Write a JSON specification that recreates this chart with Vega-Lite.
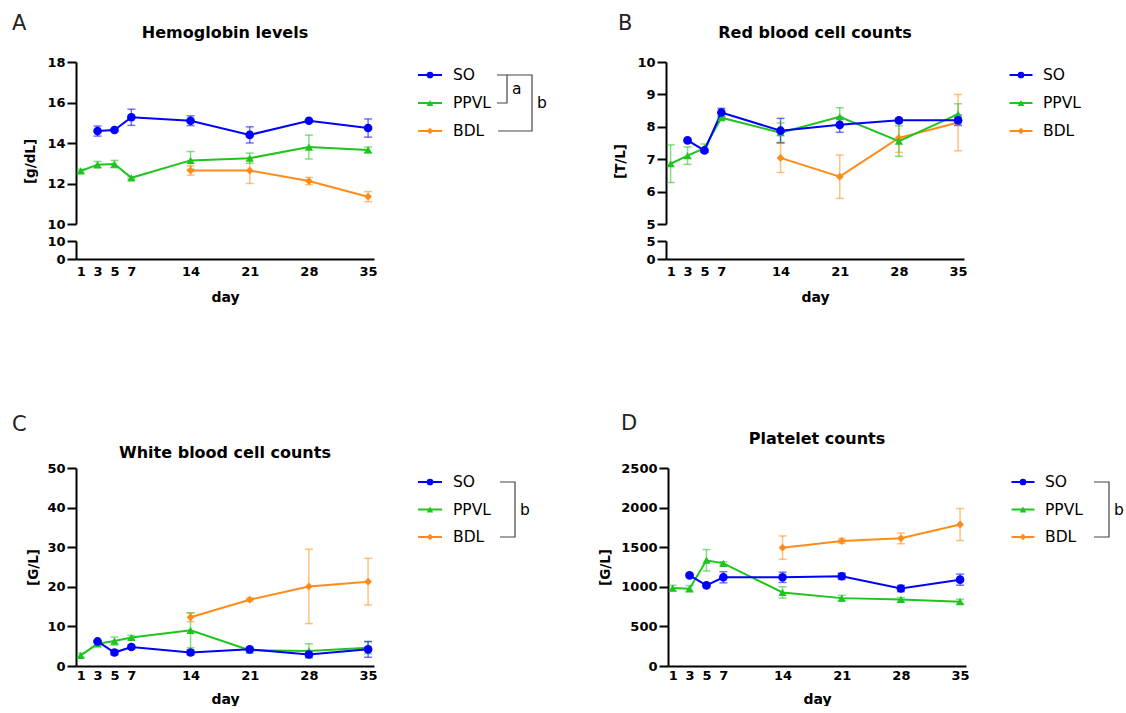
{
"$schema":"https://vega.github.io/schema/vega-lite/v6.json",
"background":"white",
"padding":{"left":12,"top":13,"right":0,"bottom":0},
"datasets":{
"d":[
{"p":"A","g":"BDL","day":14,"m":12.64,"lo":12.41,"hi":12.87},{"p":"A","g":"BDL","day":21,"m":12.64,"lo":12.0,"hi":13.28},{"p":"A","g":"BDL","day":28,"m":12.12,"lo":11.94,"hi":12.3},{"p":"A","g":"BDL","day":35,"m":11.35,"lo":11.1,"hi":11.6},
{"p":"A","g":"PPVL","day":1,"m":12.62,"lo":12.54,"hi":12.7},{"p":"A","g":"PPVL","day":3,"m":12.93,"lo":12.77,"hi":13.09},{"p":"A","g":"PPVL","day":5,"m":12.96,"lo":12.78,"hi":13.14},{"p":"A","g":"PPVL","day":7,"m":12.28,"lo":12.22,"hi":12.34},{"p":"A","g":"PPVL","day":14,"m":13.14,"lo":12.7,"hi":13.58},{"p":"A","g":"PPVL","day":21,"m":13.25,"lo":13.0,"hi":13.5},{"p":"A","g":"PPVL","day":28,"m":13.8,"lo":13.21,"hi":14.39},{"p":"A","g":"PPVL","day":35,"m":13.66,"lo":13.52,"hi":13.8},
{"p":"A","g":"SO","day":3,"m":14.59,"lo":14.34,"hi":14.84},{"p":"A","g":"SO","day":5,"m":14.64,"lo":14.58,"hi":14.7},{"p":"A","g":"SO","day":7,"m":15.27,"lo":14.87,"hi":15.67},{"p":"A","g":"SO","day":14,"m":15.1,"lo":14.86,"hi":15.34},{"p":"A","g":"SO","day":21,"m":14.4,"lo":14.0,"hi":14.8},{"p":"A","g":"SO","day":28,"m":15.1,"lo":15.04,"hi":15.16},{"p":"A","g":"SO","day":35,"m":14.74,"lo":14.29,"hi":15.19},
{"p":"B","g":"BDL","day":14,"m":7.04,"lo":6.59,"hi":7.49},{"p":"B","g":"BDL","day":21,"m":6.46,"lo":5.79,"hi":7.13},{"p":"B","g":"BDL","day":28,"m":7.66,"lo":7.21,"hi":8.11},{"p":"B","g":"BDL","day":35,"m":8.13,"lo":7.26,"hi":9.0},
{"p":"B","g":"PPVL","day":1,"m":6.86,"lo":6.28,"hi":7.44},{"p":"B","g":"PPVL","day":3,"m":7.11,"lo":6.84,"hi":7.38},{"p":"B","g":"PPVL","day":5,"m":7.34,"lo":7.21,"hi":7.47},{"p":"B","g":"PPVL","day":7,"m":8.28,"lo":8.22,"hi":8.34},{"p":"B","g":"PPVL","day":14,"m":7.82,"lo":7.52,"hi":8.12},{"p":"B","g":"PPVL","day":21,"m":8.31,"lo":8.03,"hi":8.59},{"p":"B","g":"PPVL","day":28,"m":7.56,"lo":7.09,"hi":8.03},{"p":"B","g":"PPVL","day":35,"m":8.39,"lo":8.07,"hi":8.71},
{"p":"B","g":"SO","day":3,"m":7.58,"lo":7.55,"hi":7.61},{"p":"B","g":"SO","day":5,"m":7.27,"lo":7.22,"hi":7.32},{"p":"B","g":"SO","day":7,"m":8.44,"lo":8.31,"hi":8.57},{"p":"B","g":"SO","day":14,"m":7.88,"lo":7.5,"hi":8.26},{"p":"B","g":"SO","day":21,"m":8.06,"lo":7.83,"hi":8.29},{"p":"B","g":"SO","day":28,"m":8.2,"lo":8.15,"hi":8.25},{"p":"B","g":"SO","day":35,"m":8.2,"lo":8.04,"hi":8.36},
{"p":"C","g":"BDL","day":14,"m":12.3,"lo":11.2,"hi":13.4},{"p":"C","g":"BDL","day":21,"m":16.75,"lo":16.35,"hi":17.15},{"p":"C","g":"BDL","day":28,"m":20.1,"lo":10.7,"hi":29.5},{"p":"C","g":"BDL","day":35,"m":21.3,"lo":15.4,"hi":27.2},
{"p":"C","g":"PPVL","day":1,"m":2.7,"lo":2.2,"hi":3.2},{"p":"C","g":"PPVL","day":3,"m":5.6,"lo":5.2,"hi":6.0},{"p":"C","g":"PPVL","day":5,"m":6.3,"lo":5.3,"hi":7.3},{"p":"C","g":"PPVL","day":7,"m":7.2,"lo":6.7,"hi":7.7},{"p":"C","g":"PPVL","day":14,"m":9.0,"lo":4.6,"hi":13.4},{"p":"C","g":"PPVL","day":21,"m":4.0,"lo":3.7,"hi":4.3},{"p":"C","g":"PPVL","day":28,"m":3.8,"lo":2.0,"hi":5.6},{"p":"C","g":"PPVL","day":35,"m":4.6,"lo":3.1,"hi":6.1},
{"p":"C","g":"SO","day":3,"m":6.2,"lo":5.9,"hi":6.5},{"p":"C","g":"SO","day":5,"m":3.4,"lo":2.8,"hi":4.0},{"p":"C","g":"SO","day":7,"m":4.8,"lo":4.3,"hi":5.3},{"p":"C","g":"SO","day":14,"m":3.4,"lo":2.8,"hi":4.0},{"p":"C","g":"SO","day":21,"m":4.2,"lo":3.9,"hi":4.5},{"p":"C","g":"SO","day":28,"m":2.9,"lo":2.2,"hi":3.6},{"p":"C","g":"SO","day":35,"m":4.2,"lo":2.2,"hi":6.2},
{"p":"D","g":"BDL","day":14,"m":1494,"lo":1346,"hi":1642},{"p":"D","g":"BDL","day":21,"m":1579,"lo":1549,"hi":1609},{"p":"D","g":"BDL","day":28,"m":1612,"lo":1544,"hi":1680},{"p":"D","g":"BDL","day":35,"m":1786,"lo":1584,"hi":1988},
{"p":"D","g":"PPVL","day":1,"m":984,"lo":949,"hi":1019},{"p":"D","g":"PPVL","day":3,"m":976,"lo":936,"hi":1016},{"p":"D","g":"PPVL","day":5,"m":1335,"lo":1200,"hi":1470},{"p":"D","g":"PPVL","day":7,"m":1296,"lo":1276,"hi":1316},{"p":"D","g":"PPVL","day":14,"m":929,"lo":857,"hi":1001},{"p":"D","g":"PPVL","day":21,"m":857,"lo":822,"hi":892},{"p":"D","g":"PPVL","day":28,"m":840,"lo":815,"hi":865},{"p":"D","g":"PPVL","day":35,"m":812,"lo":782,"hi":842},
{"p":"D","g":"SO","day":3,"m":1145,"lo":1125,"hi":1165},{"p":"D","g":"SO","day":5,"m":1018,"lo":998,"hi":1038},{"p":"D","g":"SO","day":7,"m":1120,"lo":1050,"hi":1190},{"p":"D","g":"SO","day":14,"m":1120,"lo":1055,"hi":1185},{"p":"D","g":"SO","day":21,"m":1133,"lo":1093,"hi":1173},{"p":"D","g":"SO","day":28,"m":978,"lo":938,"hi":1018},{"p":"D","g":"SO","day":35,"m":1090,"lo":1020,"hi":1160}
],
"s":[{"g":"SO"},{"g":"PPVL"},{"g":"BDL"}],
"br":[
{"p":"A","label":"a","from":"SO","to":"PPVL","mid":"SO|PPVL","level":1},
{"p":"A","label":"b","from":"SO","to":"BDL","mid":"PPVL","level":2},
{"p":"C","label":"b","from":"SO","to":"BDL","mid":"PPVL","level":1},
{"p":"D","label":"b","from":"SO","to":"BDL","mid":"PPVL","level":1}
]
},
"vconcat":[
{"hconcat":[
 {"title":{"text":"A","anchor":"start","frame":"group","fontSize":21,"fontWeight":"normal","color":"#222","dx":-64,"dy":9,"offset":0},
  "bounds":"flush","spacing":17,
  "vconcat":[
   {"width":298,"height":162,
    "title":{"text":"Hemoglobin levels","offset":15,"frame":"group"},
    "data":{"name":"d"},"transform":[{"filter":"datum.p==='A'"}],
    "encoding":{
     "x":{"field":"day","type":"quantitative","scale":{"domain":[0.45,35.7],"nice":false,"zero":false},"axis":null},
     "color":{"field":"g","type":"nominal","scale":{"domain":["SO","PPVL","BDL"],"range":["#0000ff","#1fc41f","#ff8c1a"]},"legend":null}},
    "layer":[
     {"mark":{"type":"rule","strokeWidth":1.5,"opacity":0.55},"encoding":{"y":{"field":"lo","type":"quantitative","scale":{"domain":[10,18],"nice":false,"zero":false},"axis":{"values":[10,12,14,16,18],"title":"[g/dL]","titleY":99,"titlePadding":9}},"y2":{"field":"hi"}}},
     {"mark":{"type":"tick","orient":"horizontal","size":8,"thickness":1.5,"opacity":0.55},"encoding":{"y":{"field":"lo","type":"quantitative","scale":{"domain":[10,18],"nice":false,"zero":false},"axis":{"values":[10,12,14,16,18],"title":"[g/dL]","titleY":99,"titlePadding":9}}}},
     {"mark":{"type":"tick","orient":"horizontal","size":8,"thickness":1.5,"opacity":0.55},"encoding":{"y":{"field":"hi","type":"quantitative","scale":{"domain":[10,18],"nice":false,"zero":false},"axis":{"values":[10,12,14,16,18],"title":"[g/dL]","titleY":99,"titlePadding":9}}}},
     {"mark":{"type":"line","strokeWidth":2},"encoding":{"y":{"field":"m","type":"quantitative","scale":{"domain":[10,18],"nice":false,"zero":false},"axis":{"values":[10,12,14,16,18],"title":"[g/dL]","titleY":99,"titlePadding":9}}}},
     {"mark":{"type":"point","filled":true,"opacity":1},"encoding":{"y":{"field":"m","type":"quantitative","scale":{"domain":[10,18],"nice":false,"zero":false},"axis":{"values":[10,12,14,16,18],"title":"[g/dL]","titleY":99,"titlePadding":9}},"shape":{"field":"g","type":"nominal","scale":{"domain":["SO","PPVL","BDL"],"range":["circle","triangle-up","diamond"]},"legend":null},"size":{"field":"g","type":"ordinal","scale":{"domain":["SO","PPVL","BDL"],"range":[75,62,45]},"legend":null}}}
    ]},
   {"width":298,"height":18,
    "data":{"name":"d"},"transform":[{"filter":"datum.p==='A'"}],
    "mark":{"type":"line","clip":true,"opacity":0},
    "encoding":{
     "x":{"field":"day","type":"quantitative","scale":{"domain":[0.45,35.7],"nice":false,"zero":false},"axis":{"values":[1,3,5,7,14,21,28,35],"title":"day","labelPadding":6,"titlePadding":12}},
     "y":{"field":"m","type":"quantitative","scale":{"domain":[0,10],"nice":false,"zero":false},"axis":{"values":[0,10],"title":null}},
     "detail":{"field":"g","type":"nominal"}}}
  ]},
 {"width":235,"height":80,
  "layer":[
   {"data":{"name":"s"},"mark":{"type":"point","shape":"M-1,0L1,0","size":576,"filled":false,"strokeWidth":2,"opacity":1},
    "encoding":{"x":{"datum":-2.08,"type":"quantitative","scale":{"domain":[-4.16,5.24],"nice":false,"zero":false},"axis":null},
     "y":{"field":"g","type":"nominal","scale":{"type":"point","domain":["SO","SO|PPVL","PPVL","PPVL|BDL","BDL"],"range":[13,69],"padding":0},"axis":null},
     "color":{"field":"g","type":"nominal","legend":null}}},
   {"data":{"name":"s"},"mark":{"type":"point","filled":true,"opacity":1,"size":45},
    "encoding":{"x":{"datum":-2.08,"type":"quantitative"},
     "y":{"field":"g","type":"nominal"},
     "color":{"field":"g","type":"nominal","legend":null},"shape":{"field":"g","type":"nominal","legend":null}}},
   {"data":{"name":"s"},"mark":{"type":"text","align":"left","baseline":"middle","fontSize":15.5,"color":"#000"},
    "encoding":{"x":{"datum":-1.16,"type":"quantitative"},
     "y":{"field":"g","type":"nominal"},
     "text":{"field":"g","type":"nominal"}}},
   {"data":{"name":"br"},"transform":[{"filter":"datum.p==='A' && datum.label==='a'"}],"mark":{"type":"point","shape":"M-0.714,-1H0V1H-0.714","size":784,"filled":false,"stroke":"#444","strokeWidth":1.2,"opacity":1},
    "encoding":{"x":{"field":"level","type":"quantitative"},"y":{"field":"mid","type":"nominal"}}},
   {"data":{"name":"br"},"transform":[{"filter":"datum.p==='A' && datum.label==='b'"}],"mark":{"type":"point","shape":"M-0.893,-1H0V1H-1.214","size":3136,"filled":false,"stroke":"#444","strokeWidth":1.2,"opacity":1},
    "encoding":{"x":{"field":"level","type":"quantitative"},"y":{"field":"mid","type":"nominal"}}},
   {"data":{"name":"br"},"transform":[{"filter":"datum.p==='A'"}],"mark":{"type":"text","align":"left","baseline":"middle","fontSize":15.5,"color":"#000","dx":5},
    "encoding":{"x":{"field":"level","type":"quantitative"},"y":{"field":"mid","type":"nominal"},"text":{"field":"label","type":"nominal"}}}
  ]},
 {"title":{"text":"B","anchor":"start","frame":"group","fontSize":21,"fontWeight":"normal","color":"#222","dx":-48,"dy":9,"offset":0},
  "bounds":"flush","spacing":17,
  "vconcat":[
   {"width":298,"height":162,
    "title":{"text":"Red blood cell counts","offset":15,"frame":"group"},
    "data":{"name":"d"},"transform":[{"filter":"datum.p==='B'"}],
    "encoding":{
     "x":{"field":"day","type":"quantitative","scale":{"domain":[0.45,35.7],"nice":false,"zero":false},"axis":null},
     "color":{"field":"g","type":"nominal","legend":null}},
    "layer":[
     {"mark":{"type":"rule","strokeWidth":1.5,"opacity":0.55},"encoding":{"y":{"field":"lo","type":"quantitative","scale":{"domain":[5,10],"nice":false,"zero":false},"axis":{"values":[5,6,7,8,9,10],"title":"[T/L]","titleY":99,"titlePadding":9}},"y2":{"field":"hi"}}},
     {"mark":{"type":"tick","orient":"horizontal","size":8,"thickness":1.5,"opacity":0.55},"encoding":{"y":{"field":"lo","type":"quantitative","scale":{"domain":[5,10],"nice":false,"zero":false},"axis":{"values":[5,6,7,8,9,10],"title":"[T/L]","titleY":99,"titlePadding":9}}}},
     {"mark":{"type":"tick","orient":"horizontal","size":8,"thickness":1.5,"opacity":0.55},"encoding":{"y":{"field":"hi","type":"quantitative","scale":{"domain":[5,10],"nice":false,"zero":false},"axis":{"values":[5,6,7,8,9,10],"title":"[T/L]","titleY":99,"titlePadding":9}}}},
     {"mark":{"type":"line","strokeWidth":2},"encoding":{"y":{"field":"m","type":"quantitative","scale":{"domain":[5,10],"nice":false,"zero":false},"axis":{"values":[5,6,7,8,9,10],"title":"[T/L]","titleY":99,"titlePadding":9}}}},
     {"mark":{"type":"point","filled":true,"opacity":1},"encoding":{"y":{"field":"m","type":"quantitative","scale":{"domain":[5,10],"nice":false,"zero":false},"axis":{"values":[5,6,7,8,9,10],"title":"[T/L]","titleY":99,"titlePadding":9}},"shape":{"field":"g","type":"nominal","legend":null},"size":{"field":"g","type":"ordinal","legend":null}}}
    ]},
   {"width":298,"height":18,
    "data":{"name":"d"},"transform":[{"filter":"datum.p==='B'"}],
    "mark":{"type":"line","clip":true,"opacity":0},
    "encoding":{
     "x":{"field":"day","type":"quantitative","scale":{"domain":[0.45,35.7],"nice":false,"zero":false},"axis":{"values":[1,3,5,7,14,21,28,35],"title":"day","labelPadding":6,"titlePadding":12}},
     "y":{"field":"m","type":"quantitative","scale":{"domain":[0,5],"nice":false,"zero":false},"axis":{"values":[0,5],"title":null}},
     "detail":{"field":"g","type":"nominal"}}}
  ]},
 {"width":155,"height":80,
  "layer":[
   {"data":{"name":"s"},"mark":{"type":"point","shape":"M-1,0L1,0","size":529,"filled":false,"strokeWidth":2,"opacity":1},
    "encoding":{"x":{"datum":-2.44,"type":"quantitative","scale":{"domain":[-4.56,1.64],"nice":false,"zero":false},"axis":null},
     "y":{"field":"g","type":"nominal","scale":{"type":"point","domain":["SO","SO|PPVL","PPVL","PPVL|BDL","BDL"],"range":[13,69],"padding":0},"axis":null},
     "color":{"field":"g","type":"nominal","legend":null}}},
   {"data":{"name":"s"},"mark":{"type":"point","filled":true,"opacity":1,"size":45},
    "encoding":{"x":{"datum":-2.44,"type":"quantitative"},
     "y":{"field":"g","type":"nominal"},
     "color":{"field":"g","type":"nominal","legend":null},"shape":{"field":"g","type":"nominal","legend":null}}},
   {"data":{"name":"s"},"mark":{"type":"text","align":"left","baseline":"middle","fontSize":15.5,"color":"#000"},
    "encoding":{"x":{"datum":-1.56,"type":"quantitative"},
     "y":{"field":"g","type":"nominal"},
     "text":{"field":"g","type":"nominal"}}}
  ]}
],"spacing":0},
{"hconcat":[
 {"title":{"text":"C","anchor":"start","frame":"group","fontSize":21,"fontWeight":"normal","color":"#222","dx":-64,"dy":-10,"offset":0},
  "bounds":"flush",
  "vconcat":[
   {"width":298,"height":198,
    "title":{"text":"White blood cell counts","offset":1,"frame":"group"},
    "data":{"name":"d"},"transform":[{"filter":"datum.p==='C'"}],
    "encoding":{
     "x":{"field":"day","type":"quantitative","scale":{"domain":[0.45,35.7],"nice":false,"zero":false},"axis":{"values":[1,3,5,7,14,21,28,35],"title":"day","labelPadding":3,"titlePadding":10}},
     "color":{"field":"g","type":"nominal","legend":null}},
    "layer":[
     {"mark":{"type":"rule","strokeWidth":1.5,"opacity":0.55},"encoding":{"y":{"field":"lo","type":"quantitative","scale":{"domain":[0,50],"nice":false,"zero":false},"axis":{"values":[0,10,20,30,40,50],"title":"[G/L]","titlePadding":6}},"y2":{"field":"hi"}}},
     {"mark":{"type":"tick","orient":"horizontal","size":8,"thickness":1.5,"opacity":0.55},"encoding":{"y":{"field":"lo","type":"quantitative","scale":{"domain":[0,50],"nice":false,"zero":false},"axis":{"values":[0,10,20,30,40,50],"title":"[G/L]","titlePadding":6}}}},
     {"mark":{"type":"tick","orient":"horizontal","size":8,"thickness":1.5,"opacity":0.55},"encoding":{"y":{"field":"hi","type":"quantitative","scale":{"domain":[0,50],"nice":false,"zero":false},"axis":{"values":[0,10,20,30,40,50],"title":"[G/L]","titlePadding":6}}}},
     {"mark":{"type":"line","strokeWidth":2},"encoding":{"y":{"field":"m","type":"quantitative","scale":{"domain":[0,50],"nice":false,"zero":false},"axis":{"values":[0,10,20,30,40,50],"title":"[G/L]","titlePadding":6}}}},
     {"mark":{"type":"point","filled":true,"opacity":1},"encoding":{"y":{"field":"m","type":"quantitative","scale":{"domain":[0,50],"nice":false,"zero":false},"axis":{"values":[0,10,20,30,40,50],"title":"[G/L]","titlePadding":6}},"shape":{"field":"g","type":"nominal","legend":null},"size":{"field":"g","type":"ordinal","legend":null}}}
    ]}
  ]},
 {"width":220,"height":80,
  "layer":[
   {"data":{"name":"s"},"mark":{"type":"point","shape":"M-1,0L1,0","size":576,"filled":false,"strokeWidth":2,"opacity":1},
    "encoding":{"x":{"datum":-2.4,"type":"quantitative","scale":{"domain":[-4.48,4.32],"nice":false,"zero":false},"axis":null},
     "y":{"field":"g","type":"nominal","scale":{"type":"point","domain":["SO","SO|PPVL","PPVL","PPVL|BDL","BDL"],"range":[14,69],"padding":0},"axis":null},
     "color":{"field":"g","type":"nominal","legend":null}}},
   {"data":{"name":"s"},"mark":{"type":"point","filled":true,"opacity":1,"size":45},
    "encoding":{"x":{"datum":-2.4,"type":"quantitative"},
     "y":{"field":"g","type":"nominal"},
     "color":{"field":"g","type":"nominal","legend":null},"shape":{"field":"g","type":"nominal","legend":null}}},
   {"data":{"name":"s"},"mark":{"type":"text","align":"left","baseline":"middle","fontSize":15.5,"color":"#000"},
    "encoding":{"x":{"datum":-1.48,"type":"quantitative"},
     "y":{"field":"g","type":"nominal"},
     "text":{"field":"g","type":"nominal"}}},
   {"data":{"name":"br"},"transform":[{"filter":"datum.p==='C'"}],"mark":{"type":"point","shape":"M-0.545,-1H0V1H-0.545","size":3025,"filled":false,"stroke":"#444","strokeWidth":1.2,"opacity":1},
    "encoding":{"x":{"field":"level","type":"quantitative"},"y":{"field":"mid","type":"nominal"}}},
   {"data":{"name":"br"},"transform":[{"filter":"datum.p==='C'"}],"mark":{"type":"text","align":"left","baseline":"middle","fontSize":15.5,"color":"#000","dx":5},
    "encoding":{"x":{"field":"level","type":"quantitative"},"y":{"field":"mid","type":"nominal"},"text":{"field":"label","type":"nominal"}}}
  ]},
 {"title":{"text":"D","anchor":"start","frame":"group","fontSize":21,"fontWeight":"normal","color":"#222","dx":-47,"dy":3,"offset":0},
  "bounds":"flush",
  "vconcat":[
   {"width":298,"height":198,
    "title":{"text":"Platelet counts","offset":15,"frame":"group"},
    "data":{"name":"d"},"transform":[{"filter":"datum.p==='D'"}],
    "encoding":{
     "x":{"field":"day","type":"quantitative","scale":{"domain":[0.45,35.7],"nice":false,"zero":false},"axis":{"values":[1,3,5,7,14,21,28,35],"title":"day","labelPadding":3,"titlePadding":10}},
     "color":{"field":"g","type":"nominal","legend":null}},
    "layer":[
     {"mark":{"type":"rule","strokeWidth":1.5,"opacity":0.55},"encoding":{"y":{"field":"lo","type":"quantitative","scale":{"domain":[0,2500],"nice":false,"zero":false},"axis":{"values":[0,500,1000,1500,2000,2500],"format":"d","title":"[G/L]","titlePadding":8}},"y2":{"field":"hi"}}},
     {"mark":{"type":"tick","orient":"horizontal","size":8,"thickness":1.5,"opacity":0.55},"encoding":{"y":{"field":"lo","type":"quantitative","scale":{"domain":[0,2500],"nice":false,"zero":false},"axis":{"values":[0,500,1000,1500,2000,2500],"format":"d","title":"[G/L]","titlePadding":8}}}},
     {"mark":{"type":"tick","orient":"horizontal","size":8,"thickness":1.5,"opacity":0.55},"encoding":{"y":{"field":"hi","type":"quantitative","scale":{"domain":[0,2500],"nice":false,"zero":false},"axis":{"values":[0,500,1000,1500,2000,2500],"format":"d","title":"[G/L]","titlePadding":8}}}},
     {"mark":{"type":"line","strokeWidth":2},"encoding":{"y":{"field":"m","type":"quantitative","scale":{"domain":[0,2500],"nice":false,"zero":false},"axis":{"values":[0,500,1000,1500,2000,2500],"format":"d","title":"[G/L]","titlePadding":8}}}},
     {"mark":{"type":"point","filled":true,"opacity":1},"encoding":{"y":{"field":"m","type":"quantitative","scale":{"domain":[0,2500],"nice":false,"zero":false},"axis":{"values":[0,500,1000,1500,2000,2500],"format":"d","title":"[G/L]","titlePadding":8}},"shape":{"field":"g","type":"nominal","legend":null},"size":{"field":"g","type":"ordinal","legend":null}}}
    ]}
  ]},
 {"width":155,"height":80,
  "layer":[
   {"data":{"name":"s"},"mark":{"type":"point","shape":"M-1,0L1,0","size":529,"filled":false,"strokeWidth":2,"opacity":1},
    "encoding":{"x":{"datum":-2.44,"type":"quantitative","scale":{"domain":[-4.56,1.64],"nice":false,"zero":false},"axis":null},
     "y":{"field":"g","type":"nominal","scale":{"type":"point","domain":["SO","SO|PPVL","PPVL","PPVL|BDL","BDL"],"range":[14,69],"padding":0},"axis":null},
     "color":{"field":"g","type":"nominal","legend":null}}},
   {"data":{"name":"s"},"mark":{"type":"point","filled":true,"opacity":1,"size":45},
    "encoding":{"x":{"datum":-2.44,"type":"quantitative"},
     "y":{"field":"g","type":"nominal"},
     "color":{"field":"g","type":"nominal","legend":null},"shape":{"field":"g","type":"nominal","legend":null}}},
   {"data":{"name":"s"},"mark":{"type":"text","align":"left","baseline":"middle","fontSize":15.5,"color":"#000"},
    "encoding":{"x":{"datum":-1.56,"type":"quantitative"},
     "y":{"field":"g","type":"nominal"},
     "text":{"field":"g","type":"nominal"}}},
   {"data":{"name":"br"},"transform":[{"filter":"datum.p==='D'"}],"mark":{"type":"point","shape":"M-0.545,-1H0V1H-0.545","size":3025,"filled":false,"stroke":"#444","strokeWidth":1.2,"opacity":1},
    "encoding":{"x":{"field":"level","type":"quantitative"},"y":{"field":"mid","type":"nominal"}}},
   {"data":{"name":"br"},"transform":[{"filter":"datum.p==='D'"}],"mark":{"type":"text","align":"left","baseline":"middle","fontSize":15.5,"color":"#000","dx":5},
    "encoding":{"x":{"field":"level","type":"quantitative"},"y":{"field":"mid","type":"nominal"},"text":{"field":"label","type":"nominal"}}}
  ]}
],"spacing":0}
],
"spacing":109,
"config":{
 "view":{"stroke":null},
 "font":"DejaVu Sans",
 "title":{"font":"DejaVu Sans","fontSize":16,"fontWeight":"bold","color":"#000","anchor":"middle"},
 "text":{"font":"DejaVu Sans"},
 "axis":{"domainColor":"#000","domainWidth":2,"tickColor":"#000","tickWidth":2,"tickSize":9,"labelFont":"DejaVu Sans","labelFontWeight":"bold","labelFontSize":13,"labelColor":"#000","labelPadding":2,"titleFont":"DejaVu Sans","titleFontWeight":"bold","titleFontSize":13.5,"titleColor":"#000","grid":false,"labelFlush":false,"labelOverlap":false},
 "axisX":{"ticks":false,"titleFontSize":14}
}
}
